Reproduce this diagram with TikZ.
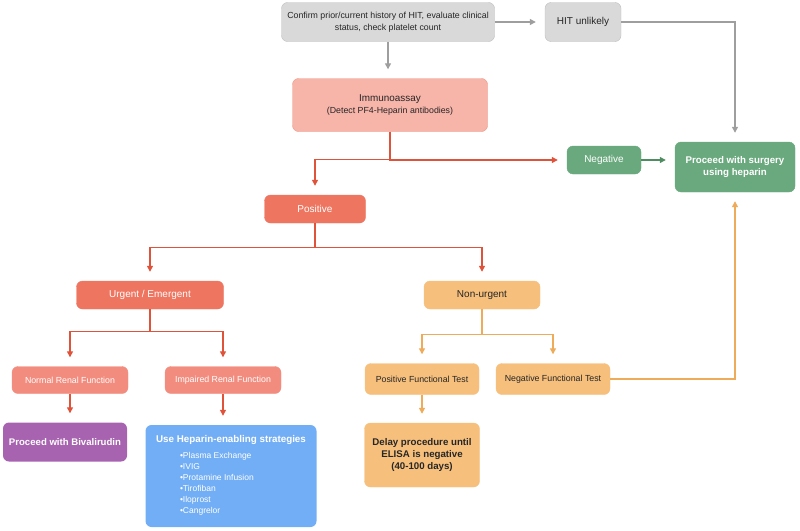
\documentclass[tikz,border=0pt]{standalone}
\usepackage{fontspec}
\setmainfont{Liberation Sans}
\usetikzlibrary{arrows.meta}

\definecolor{greyfill}{HTML}{D9D9D9}
\definecolor{greyline}{HTML}{BDBDBD}
\definecolor{greyarrow}{HTML}{9E9E9E}
\definecolor{pinkfill}{HTML}{F7B4A9}
\definecolor{pinkline}{HTML}{EE9486}
\definecolor{redfill}{HTML}{EE7560}
\definecolor{redarrow}{HTML}{E0533B}
\definecolor{renalfill}{HTML}{F28C7E}
\definecolor{greenfill}{HTML}{6AA97E}
\definecolor{greenarrow}{HTML}{4E8C62}
\definecolor{orangefill}{HTML}{F6BF7C}
\definecolor{orangearrow}{HTML}{EEAB5A}
\definecolor{purplefill}{HTML}{A763B0}
\definecolor{bluefill}{HTML}{72AEF5}
\definecolor{darktext}{HTML}{262626}

\tikzset{
  box/.style={rounded corners=6pt, align=center, inner sep=2pt,
    font=\fontsize{8.8}{12}\selectfont},
  bigtext/.style={font=\fontsize{10}{12}\selectfont},
  greybox/.style={box, draw=greyline, fill=greyfill, text=darktext},
  pinkbox/.style={box, draw=pinkline, fill=pinkfill, text=darktext},
  redbox/.style={box, draw=redfill, fill=redfill, text=white},
  renalbox/.style={box, draw=renalfill, fill=renalfill, text=white},
  greenbox/.style={box, draw=greenfill, fill=greenfill, text=white},
  orangebox/.style={box, draw=orangefill, fill=orangefill, text=darktext},
  link/.style={-{Triangle[length=6pt,width=6pt]}, line width=1.3pt, shorten >=9pt},
}

\begin{document}
\begin{tikzpicture}[x=1pt,y=-1pt]
\useasboundingbox (0,0) rectangle (800,530);
% top row
\node[greybox, minimum width=213pt, minimum height=39pt] (confirm) at (388,22)
  {Confirm prior/current history of HIT, evaluate clinical\\status, check platelet count};
\node[greybox, bigtext, minimum width=76pt, minimum height=39pt] (hit) at (583,22) {HIT unlikely};
\node[pinkbox, minimum width=195pt, minimum height=53pt] (immuno) at (390,105)
  {{\fontsize{9.9}{12}\selectfont Immunoassay}\\(Detect PF4-Heparin antibodies)};
\node[greenbox, bigtext, minimum width=74pt, minimum height=28pt] (negative) at (604,160) {Negative};
\node[greenbox, minimum width=120pt, minimum height=50pt, font=\bfseries\fontsize{9.7}{12.5}\selectfont] (proceed) at (735,167)
  {Proceed with surgery\\using heparin};
% positive branch
\node[redbox, bigtext, minimum width=101pt, minimum height=28pt] (positive) at (315,209) {Positive};
\node[redbox, bigtext, minimum width=147pt, minimum height=28pt] (urgent) at (150,295) {Urgent / Emergent};
\node[orangebox, bigtext, minimum width=116pt, minimum height=28pt] (nonurgent) at (482,295) {Non-urgent};
\node[renalbox, minimum width=116pt, minimum height=27pt] (normal) at (70,380) {Normal Renal Function};
\node[renalbox, minimum width=116pt, minimum height=27pt] (impaired) at (223,380) {Impaired Renal Function};
\node[orangebox, minimum width=114pt, minimum height=31pt] (posfunc) at (422,379) {Positive Functional Test};
\node[orangebox, minimum width=114pt, minimum height=31pt] (negfunc) at (553,379) {Negative Functional Test};
% outcomes
\node[box, fill=purplefill, text=white, minimum width=124pt, minimum height=39pt,
  font=\bfseries\fontsize{9.6}{12}\selectfont] (bival) at (65,442) {Proceed with Bivalirudin};
\node[box, fill=bluefill, text=white, minimum width=171pt, minimum height=102pt] (heparin) at (231,476)
  {{\bfseries\fontsize{9.8}{14}\selectfont Use Heparin-enabling strategies}\\[6pt]
   \makebox[84pt][l]{\fontsize{8.5}{11}\selectfont\begin{tabular}{@{}l@{}}
   \textbullet Plasma Exchange\\ \textbullet IVIG\\ \textbullet Protamine Infusion\\
   \textbullet Tirofiban\\ \textbullet Iloprost\\ \textbullet Cangrelor\end{tabular}}\hspace*{18pt}};
\node[orangebox, minimum width=115pt, minimum height=64pt, font=\bfseries\fontsize{9.7}{12.3}\selectfont] (delay) at (422,455)
  {Delay procedure until\\ELISA is negative\\(40-100 days)};

% connectors
\draw[link, greyarrow] (confirm) -- (hit);
\draw[link, greyarrow] (confirm.south) -- (confirm.south |- immuno.north);
\draw[link, greyarrow] (hit.east) -| (proceed.north);
\draw[link, redarrow] (immuno.south) |- (negative.west);
\draw[link, redarrow] (immuno.south) -- ++(0,28) -| (positive.north);
\draw[link, greenarrow] (negative.east) -- (negative.east -| proceed.west);
\draw[link, redarrow] (positive.south) -- ++(0,24) -| (urgent.north);
\draw[link, redarrow] (positive.south) -- ++(0,24) -| (nonurgent.north);
\draw[link, redarrow] (urgent.south) -- ++(0,22) -| (normal.north);
\draw[link, redarrow] (urgent.south) -- ++(0,22) -| (impaired.north);
\draw[link, redarrow] (normal.south) -- (normal.south |- bival.north);
\draw[link, redarrow] (impaired.south) -- (impaired.south |- heparin.north);
\draw[link, orangearrow] (nonurgent.south) -- ++(0,25) -| (posfunc.north);
\draw[link, orangearrow] (nonurgent.south) -- ++(0,25) -| (negfunc.north);
\draw[link, orangearrow] (posfunc.south) -- (posfunc.south |- delay.north);
\draw[link, orangearrow] (negfunc.east) -| (proceed.south);
\end{tikzpicture}
\end{document}
